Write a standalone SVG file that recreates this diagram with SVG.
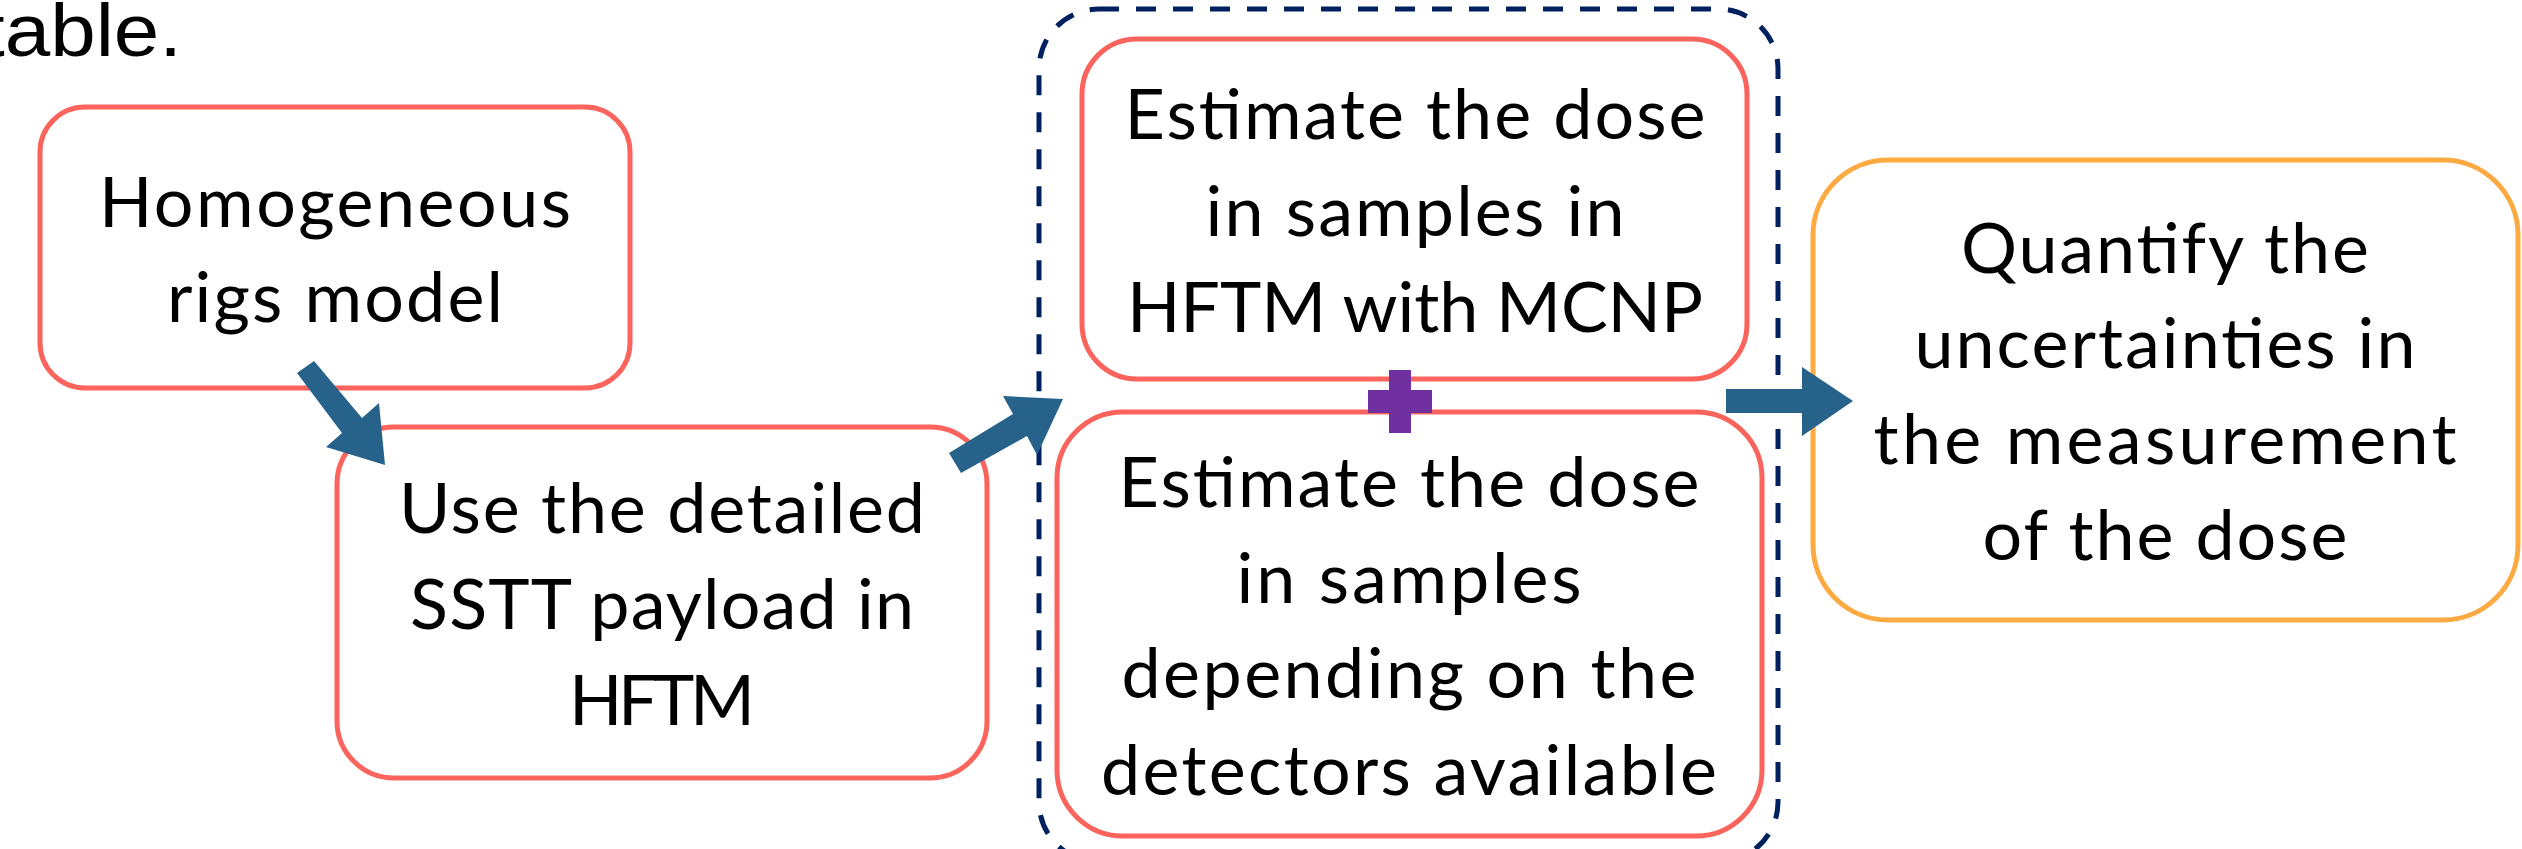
<svg xmlns="http://www.w3.org/2000/svg" width="2522" height="849" viewBox="0 0 2522 849">
<style>
.bg{fill:#ffffff}
.box{fill:#ffffff;stroke:#FA645C;stroke-width:5}
.box5{fill:#ffffff;stroke:#FDAA43;stroke-width:5}
.grp{fill:none;stroke:#002060;stroke-width:5;stroke-dasharray:20 17}
.t{font-family:Lato,"Open Sans","Liberation Sans",sans-serif;font-size:70px;fill:#000000;text-anchor:middle}
.top{font-family:"Liberation Sans",Arial,sans-serif;font-size:74px;fill:#000000}
.arr{fill:#27628A}
.plus{fill:#7030A0}
</style>
<rect class="bg" x="0" y="0" width="2522" height="849"/>
<text class="top" x="-18" y="56" textLength="200" lengthAdjust="spacingAndGlyphs">table.</text>
<g id="group-dose">
<rect class="grp" x="1039" y="9" width="739" height="853" rx="60" ry="60"/>
</g>
<g id="node-homogeneous">
<rect class="box" x="40" y="107" width="590" height="281" rx="45" ry="45"/>
<text class="t" x="335" y="227" textLength="472">Homogeneous</text>
<text class="t" x="335" y="322" textLength="336">rigs model</text>
</g>
<g id="node-sstt">
<rect class="box" x="337" y="427" width="650" height="351" rx="57" ry="57"/>
<text class="t" x="662" y="533" textLength="526">Use the detailed</text>
<text class="t" x="662" y="629" textLength="504">SSTT payload in</text>
<text class="t" x="662" y="725" textLength="186">HFTM</text>
</g>
<g id="node-mcnp">
<rect class="box" x="1082" y="39" width="665" height="340" rx="55" ry="55"/>
<text class="t" x="1415" y="139" textLength="581">Estimate the dose</text>
<text class="t" x="1415" y="236" textLength="419">in samples in</text>
<text class="t" x="1415" y="332" textLength="576">HFTM with MCNP</text>
</g>
<g id="node-detectors">
<rect class="box" x="1057" y="412" width="705" height="424" rx="66" ry="66"/>
<text class="t" x="1409" y="507" textLength="581">Estimate the dose</text>
<text class="t" x="1409" y="603" textLength="345">in samples</text>
<text class="t" x="1409" y="698" textLength="575">depending on the</text>
<text class="t" x="1409" y="795" textLength="616">detectors available</text>
</g>
<g id="node-quantify">
<rect class="box5" x="1813" y="160" width="705" height="460" rx="75" ry="75"/>
<text class="t" x="2165" y="273" textLength="408">Quantify the</text>
<text class="t" x="2165" y="368" textLength="501">uncertainties in</text>
<text class="t" x="2165" y="464" textLength="583">the measurement</text>
<text class="t" x="2165" y="560" textLength="365">of the dose</text>
</g>
<g id="connectors">
<polygon class="arr" points="297,373 314,361 362,418 379,403 385,465 326,447 342,433"/>
<polygon class="arr" points="949,453 1013,414 1003,396 1063,399 1037,455 1027,436 961,473"/>
<polygon class="arr" points="1726,389 1802,389 1802,367 1853,401 1802,436 1802,413 1726,413"/>
</g>
<g id="plus-sign">
<rect class="plus" x="1389" y="370" width="22" height="63"/>
<rect class="plus" x="1368" y="390" width="64" height="23"/>
</g>
</svg>
